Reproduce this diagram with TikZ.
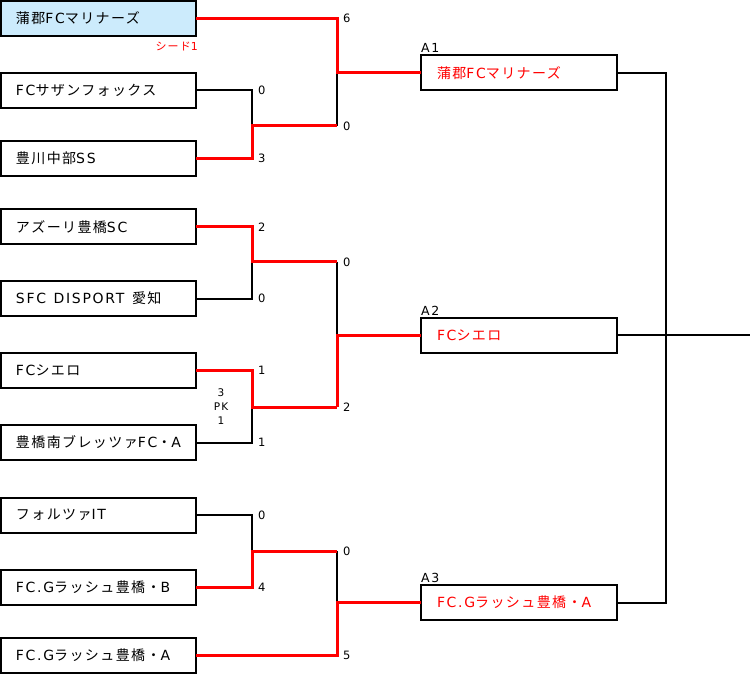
\documentclass[tikz,border=0pt]{standalone}
\usepackage{fontspec}
\setmainfont{DejaVu Sans}[LetterSpace=12]
\newfontfamily\jpfont{Noto Sans CJK JP}[LetterSpace=10]
\newcommand\jt[1]{{\jpfont #1}}
\newcommand\wsp{\ \hspace{3pt}}
\definecolor{seedblue}{RGB}{204,235,252}
\definecolor{winred}{RGB}{255,0,0}
\begin{document}
\begin{tikzpicture}[x=1pt,y=-1pt,
  team/.style={draw=black,line width=2pt,minimum height=35pt,text width=165pt,inner xsep=15pt,inner ysep=0pt,align=left,font=\fontsize{14}{16}\selectfont,outer sep=0pt},
  winbox/.style={draw=black,line width=2pt,minimum height=35pt,text width=164pt,inner xsep=16pt,inner ysep=0pt,align=left,font=\fontsize{14}{16}\selectfont,text=winred,outer sep=0pt},
  bline/.style={draw=black,line width=2pt},
  rline/.style={draw=winred,line width=3pt,line join=miter},
  score/.style={font=\fontsize{11.5}{13}\selectfont,anchor=west,inner sep=0pt},
  tag/.style={font=\fontsize{12.5}{14}\selectfont,anchor=south west,inner sep=0pt}]
\useasboundingbox (0,0) rectangle (750,695);
% left teams
\node[team,fill=seedblue] (t1) at (98.5,18.5) {\jt{蒲郡}FC\jt{マリナーズ}};
\node[team] (t2) at (98.5,90.5) {FC\jt{サザンフォックス}};
\node[team] (t3) at (98.5,158.5) {\jt{豊川中部}SS};
\node[team] (t4) at (98.5,227) {\jt{アズーリ豊橋}SC};
\node[team] (t5) at (98.5,298.5) {SFC\wsp DISPORT\wsp\jt{愛知}};
\node[team] (t6) at (98.5,370.5) {FC\jt{シエロ}};
\node[team] (t7) at (98.5,442.5) {\jt{豊橋南ブレッツァ}FC\jt{・}A};
\node[team] (t8) at (98.5,515) {\jt{フォルツァ}IT};
\node[team] (t9) at (98.5,587) {FC.G\jt{ラッシュ豊橋・}B};
\node[team] (t10) at (98.5,655) {FC.G\jt{ラッシュ豊橋・}A};
\node[font=\fontsize{11}{13}\selectfont,text=winred,anchor=east,inner sep=0pt] (seed) at (198,47) {\jt{シード}1};
% winner boxes
\node[winbox] (a1) at (519,73) {\jt{蒲郡}FC\jt{マリナーズ}};
\node[winbox] (a2) at (519,335) {FC\jt{シエロ}};
\node[winbox] (a3) at (519,602.5) {FC.G\jt{ラッシュ豊橋・}A};
\node[tag] (la1) at (421,53) {A1};
\node[tag] (la2) at (421,316) {A2};
\node[tag] (la3) at (421,583) {A3};
% join coordinates
\coordinate (m1) at (252,126);
\coordinate (m2) at (252,262);
\coordinate (m3) at (252,407);
\coordinate (m4) at (252,551);
\coordinate (q1) at (337,126);
\coordinate (q2) at (337,262);
\coordinate (q3) at (337,407);
\coordinate (q4) at (337,551);
\coordinate (r1) at (337,73);
\coordinate (r2) at (337,335);
\coordinate (r3) at (337,602.5);
\coordinate (f1) at (666,73);
\coordinate (f3) at (666,602.5);
\coordinate (fe) at (750,335);
% black lines
\draw[bline] (t2.east) -| (m1);
\draw[bline] (t5.east) -| (m2);
\draw[bline] (t7.east) -| (m3);
\draw[bline] (t8.east) -| (m4);
\draw[bline] (q1) -- (r1);
\draw[bline] (q2) -- (r2);
\draw[bline] (q4) -- (r3);
\draw[bline] (a1.east) -| (f1) -- (f3) -- (a3.east);
\draw[bline] (a2.east) -- (fe);
% red lines
\draw[rline] (t3.east) -| (m1) -- (q1);
\draw[rline] (t4.east) -| (m2) -- (q2);
\draw[rline] (t6.east) -| (m3) -- (q3);
\draw[rline] (t9.east) -| (m4) -- (q4);
\draw[rline] (t1.east) -| (r1) -- (a1.west);
\draw[rline] (q3) -- (r2) -- (a2.west);
\draw[rline] (t10.east) -| (r3) -- (a3.west);
% scores
\node[score] (s1) at (343,18) {6};
\node[score] (s2) at (258,90) {0};
\node[score] (s3) at (258,158) {3};
\node[score] (s4) at (343,126) {0};
\node[score] (s5) at (258,227) {2};
\node[score] (s6) at (258,298) {0};
\node[score] (s7) at (343,262) {0};
\node[score] (s8) at (258,370) {1};
\node[score] (s9) at (258,442) {1};
\node[score] (s10) at (343,407) {2};
\node[score] (s11) at (258,515) {0};
\node[score] (s12) at (258,587) {4};
\node[score] (s13) at (343,551) {0};
\node[score] (s14) at (343,655) {5};
\node[font=\fontsize{10.5}{14}\selectfont,align=center,inner sep=0pt] (pk) at (221,407) {3\\PK\\1};
\end{tikzpicture}
\end{document}
